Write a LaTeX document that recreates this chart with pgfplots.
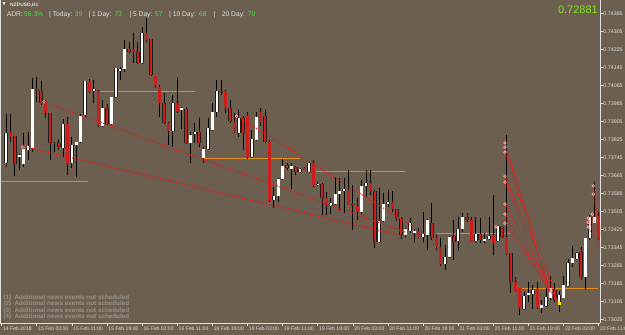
\documentclass[border=0pt]{standalone}
\usepackage{fontspec}
\setmainfont{Liberation Sans}
\newfontfamily\djv{DejaVu Sans}
\usepackage{pgfplots}
\usepackage{pgfplotstable}
\pgfplotsset{compat=1.18}
\definecolor{bg}{RGB}{108,95,80}
\definecolor{bear}{RGB}{205,30,30}
\definecolor{adrg}{RGB}{60,232,60}
\definecolor{priceg}{RGB}{124,230,20}
\definecolor{lvl}{RGB}{230,140,28}
\definecolor{lvlpale}{RGB}{218,138,40}
\definecolor{note}{RGB}{152,145,136}
\definecolor{dotred}{RGB}{240,22,22}
\definecolor{hdr}{RGB}{225,225,225}

\pgfplotstableread{
i o h l c
1 0.73720 0.73938 0.73703 0.73854
2 0.73858 0.73938 0.73814 0.73836
3 0.73841 0.73843 0.73663 0.73716
4 0.73747 0.73760 0.73689 0.73756
5 0.73720 0.73854 0.73703 0.73783
6 0.73778 0.73858 0.73734 0.73796
7 0.73788 0.74102 0.73773 0.74049
8 0.74049 0.74102 0.73992 0.74041
9 0.74041 0.74085 0.73978 0.73987
10 0.73987 0.74001 0.73920 0.73942
11 0.73942 0.73944 0.73734 0.73810
12 0.73812 0.73814 0.73769 0.73807
13 0.73810 0.73823 0.73778 0.73792
14 0.73788 0.73916 0.73747 0.73894
15 0.73894 0.73925 0.73667 0.73720
16 0.73720 0.73836 0.73698 0.73801
17 0.73801 0.73816 0.73658 0.73814
18 0.73814 0.73938 0.73810 0.73933
19 0.73933 0.74087 0.73925 0.74085
20 0.74085 0.74094 0.74032 0.74036
21 0.74041 0.74089 0.73987 0.74049
22 0.74041 0.74045 0.73880 0.73885
23 0.73885 0.74001 0.73880 0.73964
24 0.73964 0.73983 0.73889 0.73894
25 0.73894 0.74016 0.73889 0.74014
26 0.74014 0.74144 0.74010 0.74142
27 0.74133 0.74147 0.74089 0.74142
28 0.74138 0.74267 0.74125 0.74227
29 0.74227 0.74258 0.74209 0.74214
30 0.74223 0.74299 0.74164 0.74214
31 0.74214 0.74258 0.74160 0.74164
32 0.74164 0.74325 0.74160 0.74299
33 0.74299 0.74365 0.74258 0.74267
34 0.74271 0.74273 0.74107 0.74111
35 0.74107 0.74111 0.74054 0.74063
36 0.74058 0.74067 0.73925 0.73987
37 0.73987 0.74032 0.73894 0.73898
38 0.73898 0.73902 0.73801 0.73863
39 0.73863 0.74023 0.73792 0.73987
40 0.73987 0.74098 0.73942 0.73951
41 0.73958 0.73973 0.73872 0.73964
42 0.73964 0.73969 0.73805 0.73810
43 0.73810 0.73858 0.73720 0.73849
44 0.73849 0.73898 0.73810 0.73858
45 0.73858 0.73920 0.73792 0.73810
46 0.73742 0.73792 0.73720 0.73783
47 0.73783 0.73920 0.73778 0.73876
48 0.73867 0.73987 0.73863 0.73947
49 0.73947 0.74089 0.73925 0.74041
50 0.74043 0.74089 0.74023 0.74038
51 0.74041 0.74045 0.73942 0.73964
52 0.73964 0.74001 0.73902 0.73907
53 0.73907 0.73942 0.73854 0.73858
54 0.73854 0.73955 0.73836 0.73920
55 0.73920 0.73933 0.73778 0.73854
56 0.73933 0.73947 0.73742 0.73747
57 0.73747 0.73867 0.73742 0.73827
58 0.73823 0.73947 0.73819 0.73925
59 0.73947 0.73964 0.73885 0.73902
60 0.73933 0.73955 0.73810 0.73814
61 0.73814 0.73823 0.73547 0.73551
62 0.73556 0.73614 0.73520 0.73573
63 0.73573 0.73654 0.73547 0.73650
64 0.73650 0.73738 0.73645 0.73707
65 0.73711 0.73720 0.73689 0.73698
66 0.73698 0.73720 0.73605 0.73707
67 0.73703 0.73707 0.73667 0.73680
68 0.73680 0.73698 0.73676 0.73694
69 0.73698 0.73703 0.73689 0.73694
70 0.73680 0.73729 0.73676 0.73720
71 0.73720 0.73734 0.73614 0.73623
72 0.73625 0.73636 0.73619 0.73630
73 0.73627 0.73632 0.73489 0.73565
74 0.73565 0.73592 0.73489 0.73534
75 0.73529 0.73569 0.73498 0.73542
76 0.73538 0.73658 0.73534 0.73583
77 0.73583 0.73654 0.73512 0.73596
78 0.73596 0.73654 0.73498 0.73605
79 0.73605 0.73689 0.73534 0.73538
80 0.73540 0.73623 0.73423 0.73536
81 0.73529 0.73565 0.73467 0.73503
82 0.73503 0.73645 0.73498 0.73619
83 0.73619 0.73689 0.73569 0.73632
84 0.73632 0.73689 0.73579 0.73596
85 0.73596 0.73601 0.73343 0.73373
86 0.73369 0.73610 0.73365 0.73463
87 0.73463 0.73588 0.73458 0.73538
88 0.73542 0.73601 0.73525 0.73547
89 0.73547 0.73596 0.73503 0.73516
90 0.73516 0.73520 0.73467 0.73476
91 0.73476 0.73481 0.73383 0.73401
92 0.73401 0.73432 0.73392 0.73427
93 0.73419 0.73476 0.73410 0.73454
94 0.73410 0.73427 0.73369 0.73419
95 0.73419 0.73432 0.73388 0.73392
96 0.73392 0.73503 0.73369 0.73405
97 0.73401 0.73472 0.73334 0.73467
98 0.73454 0.73542 0.73379 0.73388
99 0.73388 0.73401 0.73334 0.73347
100 0.73347 0.73388 0.73267 0.73272
101 0.73272 0.73356 0.73245 0.73303
102 0.73303 0.73397 0.73298 0.73392
103 0.73397 0.73467 0.73289 0.73373
104 0.73373 0.73481 0.73334 0.73427
105 0.73427 0.73498 0.73414 0.73481
106 0.73481 0.73498 0.73458 0.73467
107 0.73467 0.73481 0.73369 0.73373
108 0.73373 0.73481 0.73365 0.73405
109 0.73405 0.73476 0.73365 0.73379
110 0.73373 0.73410 0.73365 0.73383
111 0.73383 0.73481 0.73379 0.73397
112 0.73397 0.73579 0.73312 0.73365
113 0.73373 0.73445 0.73369 0.73441
114 0.73436 0.73441 0.73388 0.73392
115 0.73392 0.73845 0.73312 0.73316
116 0.73320 0.73322 0.73147 0.73192
117 0.73192 0.73214 0.73147 0.73151
118 0.73165 0.73167 0.73045 0.73076
119 0.73072 0.73147 0.73067 0.73129
120 0.73134 0.73192 0.73103 0.73143
121 0.73138 0.73179 0.73076 0.73160
122 0.73160 0.73192 0.73072 0.73076
123 0.73076 0.73112 0.73054 0.73090
124 0.73085 0.73165 0.73081 0.73125
125 0.73121 0.73219 0.73112 0.73165
126 0.73156 0.73188 0.73103 0.73112
127 0.73103 0.73151 0.73059 0.73134
128 0.73125 0.73219 0.73121 0.73179
129 0.73175 0.73294 0.73169 0.73276
130 0.73276 0.73351 0.73259 0.73298
131 0.73294 0.73325 0.73289 0.73320
132 0.73325 0.73347 0.73201 0.73214
133 0.73214 0.73390 0.73160 0.73388
134 0.73388 0.73489 0.73379 0.73481
135 0.73458 0.73636 0.73454 0.73481
136 0.73485 0.73503 0.73379 0.73388
}\candles

\pgfplotsset{
  candlepart/.style={only marks, mark=*, mark size=0pt, mark options={draw=none, fill=none},
    error bars/y dir=both, error bars/y explicit, error bars/error mark=none,
    error bars/error bar style={#1}},
}

\begin{document}
\begin{tikzpicture}
\useasboundingbox (0pt,0pt) rectangle (625pt,335pt);
\clip (0pt,0pt) rectangle (625pt,335pt);
\fill[bg] (0pt,0pt) rectangle (625pt,335pt);
\begin{axis}[
  at={(0pt,12pt)}, anchor=south west,
  scale only axis, width=600pt, height=323pt,
  xmin=-0.387, xmax=136.29, ymin=0.730102, ymax=0.74445,
  axis x line*=bottom, axis y line*=right,
  axis line style={draw=hdr, line width=0.9pt},
  tick align=outside, major tick length=3pt,
  tick style={draw=hdr, line width=0.7pt},
  scaled y ticks=false, scaled x ticks=false,
  xtick={0,8,...,136},
  xticklabels={14 Feb 2018,15 Feb 03:00,15 Feb 11:00,15 Feb 19:00,16 Feb 03:00,16 Feb 11:00,16 Feb 19:00,19 Feb 03:00,19 Feb 11:00,19 Feb 19:00,20 Feb 03:00,20 Feb 11:00,20 Feb 19:00,21 Feb 03:00,21 Feb 11:00,21 Feb 19:00,22 Feb 03:00,22 Feb 11:00},
  xticklabel style={anchor=north west, inner sep=0pt, xshift=1.2pt, yshift=-0.5pt, text=hdr, font=\fontsize{5.1}{6}\selectfont},
  ytick={0.73025,0.73105,0.73185,0.73265,0.73345,0.73425,0.73505,0.73585,0.73665,0.73745,0.73825,0.73905,0.73985,0.74065,0.74145,0.74225,0.74305,0.74385},
  yticklabels={0.73025,0.73105,0.73185,0.73265,0.73345,0.73425,0.73505,0.73585,0.73665,0.73745,0.73825,0.73905,0.73985,0.74065,0.74145,0.74225,0.74305,0.74385},
  yticklabel style={anchor=west, inner sep=0pt, xshift=0.3pt, text=hdr, font=\fontsize{5.3}{6}\selectfont},
  extra description/.code={\draw[hdr, line width=1pt] ([xshift=0.5pt]rel axis cs:0,0) -- ([xshift=0.5pt]rel axis cs:0,1);},
]
% level lines
\addplot[lvlpale, line width=1pt] coordinates {(-0.4,0.73639) (19.7,0.73639)};
\addplot[lvlpale, line width=1pt] coordinates {(22.4,0.74039) (44,0.74039)};
\addplot[lvl, line width=1pt] coordinates {(45.9,0.73741) (67.9,0.73741)};
\addplot[lvlpale, line width=1pt] coordinates {(71.7,0.73683) (91.9,0.73683)};
\addplot[lvlpale, line width=1pt] coordinates {(99.2,0.73408) (115.9,0.73408)};
\addplot[lvl, line width=1pt] coordinates {(118.5,0.73164) (135.8,0.73164)};
% wicks
\addplot[candlepart={black, line width=0.9pt}]
  table[x=i, y expr={(\thisrow{h}+\thisrow{l})/2}, y error expr={(\thisrow{h}-\thisrow{l})/2}] {\candles};
% bull bodies
\addplot[candlepart={black!70!bg, line width=3.5pt}, restrict expr to domain={\thisrow{c}-\thisrow{o}}{0:1}]
  table[x=i, y expr={(\thisrow{o}+\thisrow{c})/2}, y error expr={abs(\thisrow{c}-\thisrow{o})/2}] {\candles};
\addplot[candlepart={white, line width=2.5pt}, restrict expr to domain={\thisrow{c}-\thisrow{o}}{0:1}]
  table[x=i, y expr={(\thisrow{o}+\thisrow{c})/2}, y error expr={abs(\thisrow{c}-\thisrow{o})/2}] {\candles};
% bear bodies
\addplot[candlepart={black!70!bg, line width=3.5pt}, restrict expr to domain={\thisrow{c}-\thisrow{o}}{-1:0}]
  table[x=i, y expr={(\thisrow{o}+\thisrow{c})/2}, y error expr={abs(\thisrow{c}-\thisrow{o})/2}] {\candles};
\addplot[candlepart={bear, line width=2.5pt}, restrict expr to domain={\thisrow{c}-\thisrow{o}}{-1:0}]
  table[x=i, y expr={(\thisrow{o}+\thisrow{c})/2}, y error expr={abs(\thisrow{c}-\thisrow{o})/2}] {\candles};
% trend lines
\addplot[dotred, line width=1pt, dash pattern=on 1.2pt off 1.3pt] coordinates {(9.64,0.73992) (91.87,0.73414)};
\addplot[dotred, line width=1.4pt, dash pattern=on 1.2pt off 1.6pt] coordinates {(5.54,0.73792) (89.6,0.73405)};
\addplot[dotred, line width=1pt, dash pattern=on 1.2pt off 1.3pt] coordinates {(53.6,0.73929) (96.4,0.73405)};
% fan from spike
\addplot[dotred, line width=0.8pt, dash pattern=on 1pt off 1.2pt] coordinates {(114.65,0.73810) (124.9,0.73147)};
\addplot[dotred, line width=0.8pt, dash pattern=on 1pt off 1.2pt] coordinates {(114.65,0.73792) (126.7,0.73103)};
\addplot[dotred, line width=0.8pt, dash pattern=on 1pt off 1.2pt] coordinates {(114.65,0.73769) (124.9,0.73147)};
\addplot[dotred, line width=0.8pt, dash pattern=on 1pt off 1.2pt] coordinates {(114.65,0.73663) (126.7,0.73103)};
\addplot[dotred, line width=0.8pt, dash pattern=on 1pt off 1.2pt] coordinates {(114.65,0.73636) (124.9,0.73147)};
\addplot[dotred, line width=0.8pt, dash pattern=on 1pt off 1.2pt] coordinates {(114.65,0.73538) (126.7,0.73103)};
\addplot[dotred, line width=0.8pt, dash pattern=on 1pt off 1.2pt] coordinates {(114.65,0.73494) (124.9,0.73147)};
\addplot[dotred, line width=0.8pt, dash pattern=on 1pt off 1.2pt] coordinates {(114.65,0.73454) (126.7,0.73103)};
% right fan
\addplot[dotred, line width=0.8pt, dash pattern=on 1pt off 1.2pt] coordinates {(134.76,0.73619) (137.4,0.73289)};
\addplot[dotred, line width=0.8pt, dash pattern=on 1pt off 1.2pt] coordinates {(134.76,0.73583) (137.4,0.73289)};
\addplot[dotred, line width=0.8pt, dash pattern=on 1pt off 1.2pt] coordinates {(134.6,0.73494) (137.4,0.73289)};
\addplot[dotred, line width=0.8pt, dash pattern=on 1pt off 1.2pt] coordinates {(133.6,0.73476) (137.4,0.73289)};
\addplot[dotred, line width=0.8pt, dash pattern=on 1pt off 1.2pt] coordinates {(133.6,0.73436) (137.4,0.73289)};
% markers
\addplot[only marks, mark=*, mark size=1.4pt, mark options={fill=dotred, draw=white!80!red, line width=0.5pt}] coordinates {
(4.85,0.73792) (9.64,0.73992) (53.5,0.73929) (112.6,0.73437)
(114.65,0.73810) (114.65,0.73792) (114.65,0.73769) (114.65,0.73663) (114.65,0.73636) (114.65,0.73538) (114.65,0.73494) (114.65,0.73454)
(134.76,0.73619) (134.76,0.73583) (134.6,0.73494) (133.6,0.73476) (133.6,0.73458) (133.6,0.73436)};
\addplot[only marks, mark=square*, mark size=0.8pt, color=yellow!90!orange] coordinates {(126.96,0.73098)};
\end{axis}
% header
\node[anchor=center, inner sep=0pt, text=hdr, font=\djv\fontsize{4.5}{5}\selectfont] at (4pt,330.3pt) {▼};
\node[anchor=base west, inner sep=0pt, text=hdr, font=\fontsize{4.9}{6}\selectfont\bfseries] at (10pt,328.5pt) {NZDUSD,H1};
\begin{scope}[every node/.style={anchor=base west, inner sep=0pt, font=\fontsize{6.7}{8}\selectfont}]
\node[text=hdr] at (6.7pt,318.6pt) {ADR:};
\node[text=adrg] at (24pt,318.6pt) {56.3\%};
\node[text=hdr] at (49pt,318.6pt) {| Today:};
\node[text=adrg] at (74.7pt,318.6pt) {39};
\node[text=hdr] at (88.3pt,318.6pt) {| 1 Day:};
\node[text=adrg] at (114.3pt,318.6pt) {73};
\node[text=hdr] at (129.3pt,318.6pt) {| 5 Day:};
\node[text=adrg] at (155pt,318.6pt) {57};
\node[text=hdr] at (169pt,318.6pt) {| 10 Day:};
\node[text=adrg] at (199pt,318.6pt) {68};
\node[text=hdr] at (213.3pt,318.6pt) {|};
\node[text=hdr] at (221.7pt,318.6pt) {20 Day:};
\node[text=adrg] at (247.7pt,318.6pt) {70};
\end{scope}
\node[anchor=base east, inner sep=0pt, text=priceg, font=\fontsize{11}{13}\selectfont] at (598pt,321.3pt) {0.72881};
% notes
\begin{scope}[every node/.style={anchor=base west, inner sep=0pt, text=note, font=\fontsize{6.3}{7}\selectfont\bfseries}]
\node at (3.3pt,35.4pt) {(1)\ \ Additional news events not scheduled};
\node at (3.3pt,29pt) {(2)\ \ Additional news events not scheduled};
\node at (3.3pt,22.7pt) {(3)\ \ Additional news events not scheduled};
\node at (3.3pt,16.4pt) {(4)\ \ Additional news events not scheduled};
\end{scope}
\end{tikzpicture}
\end{document}
